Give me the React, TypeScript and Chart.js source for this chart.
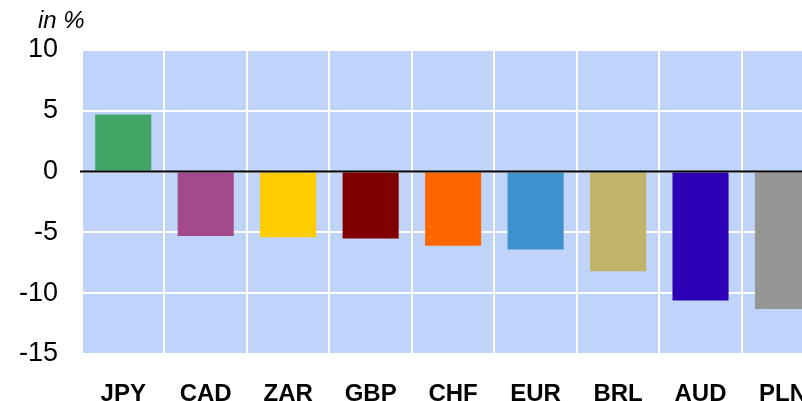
import React, { useEffect, useRef } from "react";
import { Chart, registerables } from "chart.js";

Chart.register(...registerables);

const categories = ["JPY", "CAD", "ZAR", "GBP", "CHF", "EUR", "BRL", "AUD", "PLN"];
const values = [4.7, -5.3, -5.4, -5.5, -6.1, -6.4, -8.2, -10.6, -11.3];
const barColors = ["#43A566", "#A34A8C", "#FFCC00", "#800000", "#FF6600", "#3F91CD", "#BFB46A", "#2E00B5", "#969696"];
const yTicks = [-15, -10, -5, 0, 5, 10];
const unitLabel = "in %";

const FONT = "'Liberation Sans', Arial, sans-serif";

export default function App() {
  const ref = useRef<HTMLCanvasElement | null>(null);

  useEffect(() => {
    if (!ref.current) return;
    const bgPlugin = {
      id: "bg",
      beforeDraw(chart: any) {
        const { ctx, chartArea } = chart;
        ctx.save();
        ctx.fillStyle = "#C0D3F8";
        ctx.fillRect(chartArea.left, chartArea.top, chartArea.right - chartArea.left, chartArea.bottom - chartArea.top);
        ctx.restore();
      },
      afterDatasetsDraw(chart: any) {
        const { ctx, chartArea } = chart;
        const y = chart.scales.y.getPixelForValue(0);
        ctx.save();
        ctx.strokeStyle = "#000";
        ctx.lineWidth = 2;
        ctx.beginPath();
        ctx.moveTo(chartArea.left - 2, y);
        ctx.lineTo(chartArea.right, y);
        ctx.stroke();
        ctx.fillStyle = "#000";
        ctx.font = `italic 24px ${FONT}`;
        ctx.textBaseline = "alphabetic";
        ctx.textAlign = "left";
        ctx.fillText(unitLabel, 38, 28);
        ctx.restore();
      },
    };
    const chart = new Chart(ref.current, {
      type: "bar",
      data: {
        labels: categories,
        datasets: [
          {
            data: values,
            backgroundColor: barColors,
            borderWidth: 0,
            barPercentage: 0.68,
            categoryPercentage: 1,
          },
        ],
      },
      options: {
        responsive: false,
        animation: false,
        devicePixelRatio: 1,
        layout: { padding: { left: 0, right: 0, top: 50, bottom: 0 } },
        plugins: { legend: { display: false }, tooltip: { enabled: false }, title: { display: false } },
        scales: {
          x: {
            type: "category",
            offset: true,
            grid: { color: "#FFFFFF", lineWidth: 2, drawTicks: false, offset: true },
            border: { display: false },
            ticks: {
              color: "#000",
              font: { family: FONT, size: 24, weight: "bold" },
              padding: 26,
              maxRotation: 0,
              autoSkip: false,
            },
            afterFit: (s: any) => {
              s.height = 56;
            },
          },
          y: {
            min: -15,
            max: 10,
            afterBuildTicks: (s: any) => {
              s.ticks = yTicks.map((v) => ({ value: v }));
            },
            grid: { color: "#FFFFFF", lineWidth: 2, drawTicks: false },
            border: { display: false },
            ticks: {
              color: "#000",
              font: { family: FONT, size: 27 },
              padding: 24,
            },
            afterFit: (s: any) => {
              s.width = 82;
            },
          },
        },
      },
      plugins: [bgPlugin],
    });
    return () => chart.destroy();
  }, []);

  return (
    <div style={{ position: "fixed", left: 0, top: 0, width: 802, height: 401, overflow: "hidden", background: "#fff" }}>
      <canvas ref={ref} width={833} height={410} style={{ width: 833, height: 410, display: "block" }} />
    </div>
  );
}
